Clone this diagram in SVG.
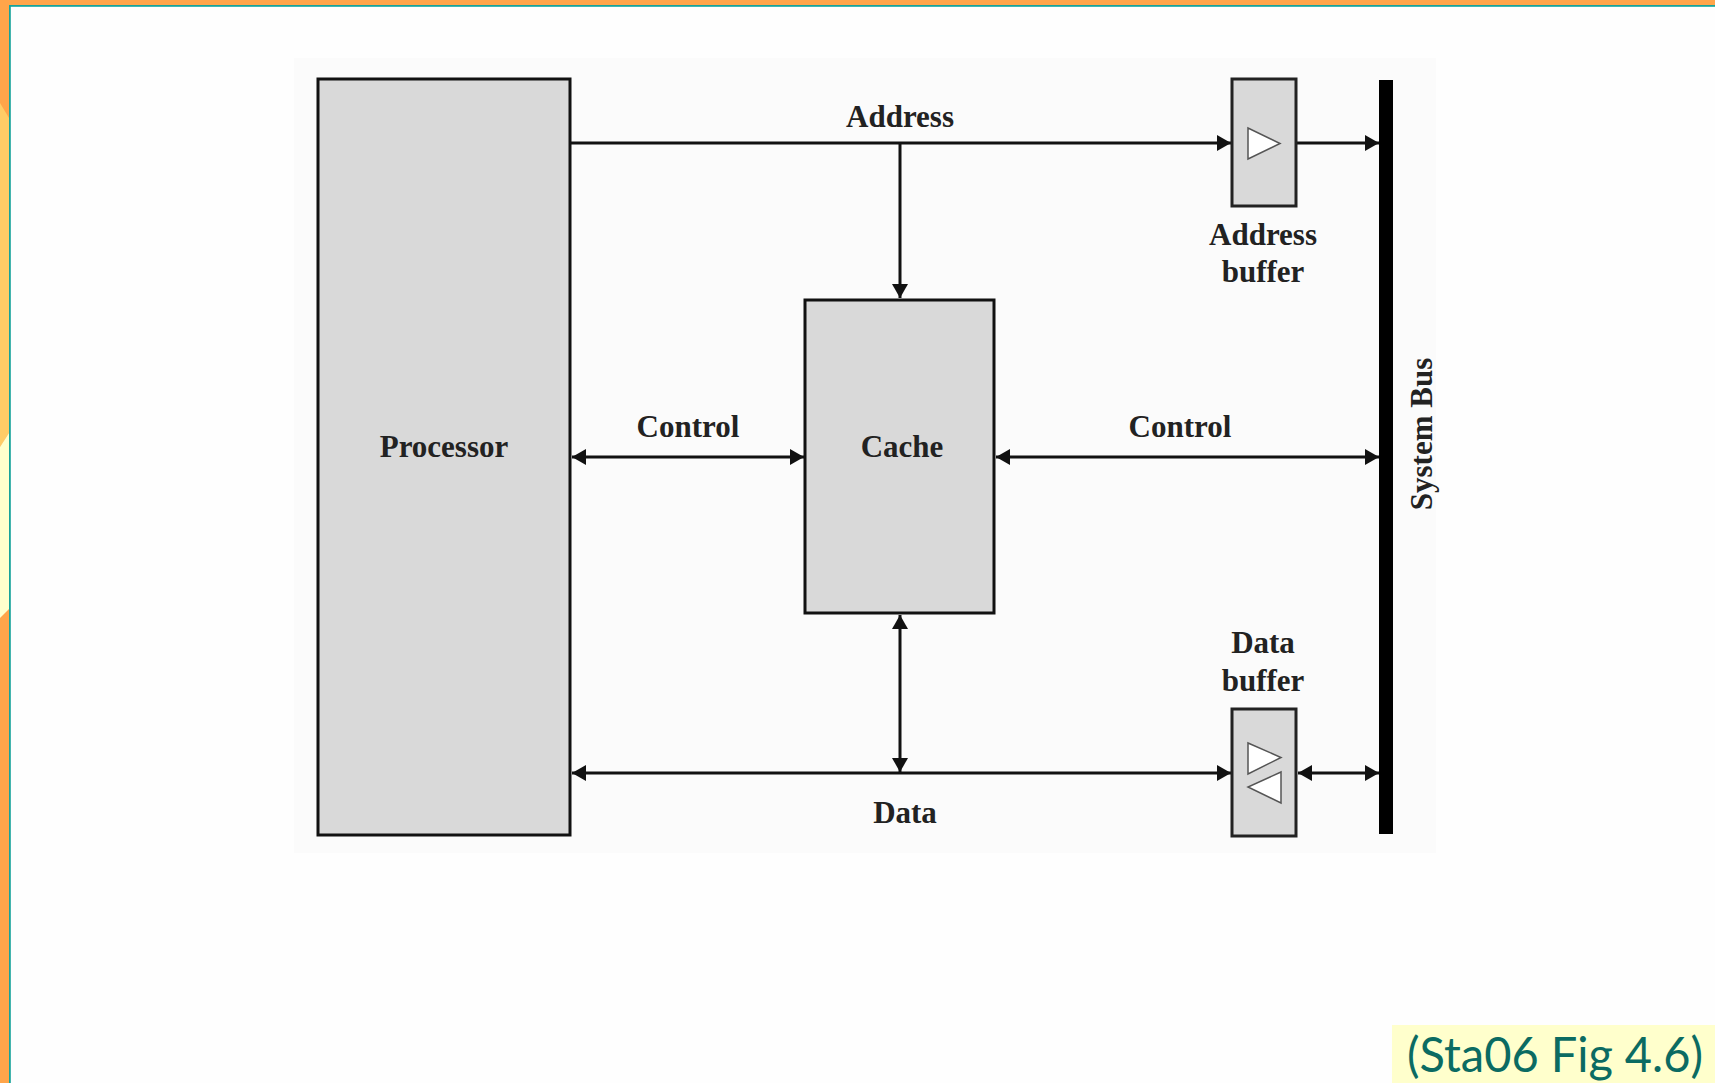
<svg xmlns="http://www.w3.org/2000/svg" width="1715" height="1083" viewBox="0 0 1715 1083">
  <style>
    .box { fill: #D9D9D9; stroke: #111; stroke-width: 3; }
    .buf { fill: #D9D9D9; stroke: #222; stroke-width: 3; }
    .tri { fill: #FFFFFF; stroke: #555; stroke-width: 1.5; }
    .wire { stroke: #111; stroke-width: 3; fill: none; }
    .lbl { font-family: "Liberation Serif", "Times New Roman", serif; font-weight: bold; font-size: 31px; fill: #222; text-anchor: middle; }
    .cap { font-family: Lato, "Open Sans", sans-serif; font-size: 48px; fill: #0B6B62; }
  </style>
  <defs>
    <marker id="arr" viewBox="0 0 14 16" refX="14" refY="8" markerWidth="14" markerHeight="16" markerUnits="userSpaceOnUse" orient="auto-start-reverse">
      <path d="M0,0 L14,8 L0,16 Z" fill="#111"/>
    </marker>
  </defs>

  <!-- slide frame -->
  <g id="frame">
    <rect x="0" y="0" width="1715" height="1083" fill="#FEFEFE"/>
    <rect x="0" y="0" width="1715" height="5" fill="#FFA54A"/>
    <rect x="0" y="0" width="9" height="1083" fill="#FFA54A"/>
    <polygon points="0,103 9,118 9,433 0,447" fill="#FFCC66"/>
    <polygon points="0,447 9,433 9,609 0,618" fill="#FFFFCC"/>
    <rect x="9" y="5" width="1706" height="1.8" fill="#17A39B"/>
    <rect x="9" y="5" width="1.8" height="1078" fill="#17A39B"/>
    <rect x="294" y="58" width="1142" height="795" fill="#FBFBFB"/>
  </g>

  <!-- connectors -->
  <g id="connectors">
    <line class="wire" x1="571" y1="143" x2="1231" y2="143" marker-end="url(#arr)"/>
    <line class="wire" x1="900" y1="143" x2="900" y2="298" marker-end="url(#arr)"/>
    <line class="wire" x1="1296" y1="143" x2="1379" y2="143" marker-end="url(#arr)"/>
    <line class="wire" x1="572" y1="457" x2="804" y2="457" marker-start="url(#arr)" marker-end="url(#arr)"/>
    <line class="wire" x1="996" y1="457" x2="1379" y2="457" marker-start="url(#arr)" marker-end="url(#arr)"/>
    <line class="wire" x1="900" y1="615" x2="900" y2="772" marker-start="url(#arr)" marker-end="url(#arr)"/>
    <line class="wire" x1="572" y1="773" x2="1231" y2="773" marker-start="url(#arr)" marker-end="url(#arr)"/>
    <line class="wire" x1="1298" y1="773" x2="1379" y2="773" marker-start="url(#arr)" marker-end="url(#arr)"/>
  </g>

  <g id="processor">
    <rect class="box" x="318" y="79" width="252" height="756"/>
    <text class="lbl" x="444" y="457">Processor</text>
  </g>

  <g id="cache">
    <rect class="box" x="805" y="300" width="189" height="313"/>
    <text class="lbl" x="902" y="457">Cache</text>
  </g>

  <g id="address-buffer">
    <rect class="buf" x="1232" y="79" width="64" height="127"/>
    <polygon class="tri" points="1248,128 1248,159 1280,143.5"/>
    <text class="lbl" x="1263" y="245">Address</text>
    <text class="lbl" x="1263" y="282">buffer</text>
  </g>

  <g id="data-buffer">
    <rect class="buf" x="1232" y="709" width="64" height="127"/>
    <polygon class="tri" points="1248,743 1248,774 1281,757.5"/>
    <polygon class="tri" points="1281,772 1281,803 1248,787"/>
    <text class="lbl" x="1263" y="653">Data</text>
    <text class="lbl" x="1263" y="691">buffer</text>
  </g>

  <g id="system-bus">
    <rect x="1379" y="80" width="14" height="754" fill="#000"/>
    <text class="lbl" transform="translate(1432,434) rotate(-90)" x="0" y="0">System Bus</text>
  </g>

  <g id="labels">
    <text class="lbl" x="900" y="127">Address</text>
    <text class="lbl" x="688" y="437">Control</text>
    <text class="lbl" x="1180" y="437">Control</text>
    <text class="lbl" x="905" y="823">Data</text>
  </g>

  <g id="caption">
    <rect x="1392" y="1025" width="323" height="58" fill="#FFFFCC"/>
    <text class="cap" x="1407" y="1072" textLength="296" lengthAdjust="spacingAndGlyphs">(Sta06 Fig 4.6)</text>
  </g>
</svg>
